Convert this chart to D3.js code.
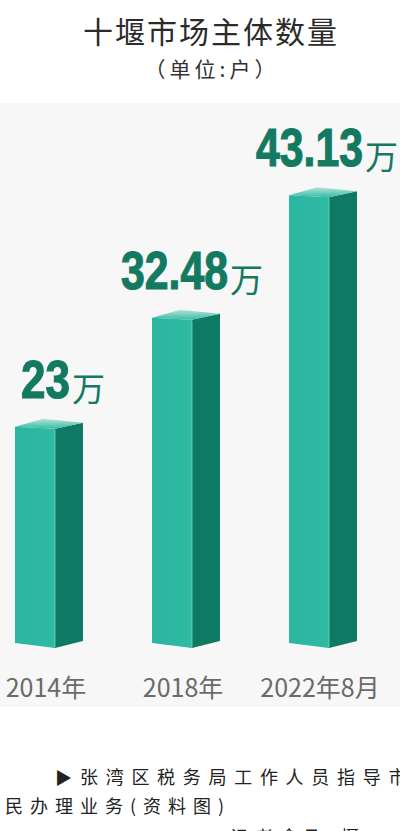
<!DOCTYPE html>
<html><head><meta charset="utf-8">
<script src="https://cdn.jsdelivr.net/npm/d3@7/dist/d3.min.js"></script>
<style>
html,body{margin:0;padding:0;background:#fff;}
svg{display:block;}
</style></head>
<body>
<script>
const title = "十堰市场主体数量";
const subtitle = "（单位:户）";
const categories = ["2014年", "2018年", "2022年8月"];
const values = [23, 32.48, 43.13];
const valueLabels = ["23", "32.48", "43.13"];
const unitLabel = "万";
const captionLines = ["张湾区税务局工作人员指导市", "民办理业务(资料图)", "记者余飞 摄"];

const W = 400, H = 831;
const svg = d3.select("body").append("svg").attr("width", W).attr("height", H);

// panel
svg.append("rect").attr("x", 0).attr("y", 103).attr("width", W).attr("height", 604).attr("fill", "#f7f7f7");

// title
svg.append("text").attr("x", 211).attr("y", 43).attr("text-anchor", "middle")
  .attr("font-family", "'Noto Sans CJK SC', sans-serif").attr("font-size", 30)
  .attr("letter-spacing", 2).attr("fill", "#2b2b2b").text(title);
svg.append("text").attr("x", 212).attr("y", 77).attr("text-anchor", "middle")
  .attr("font-family", "'Noto Sans CJK SC', sans-serif").attr("font-size", 21)
  .attr("letter-spacing", 4).attr("fill", "#333").text(subtitle);

const x = d3.scaleBand().domain(categories).range([15, 357]).paddingInner(0.504).paddingOuter(0);
const y = d3.scaleLinear().domain([4.2, 44]).range([643, 185.3]);
const base = y.range()[0];
const bw = x.bandwidth();
const fw = bw * 40 / 68, sw = bw - fw;

const defs = svg.append("defs");
const g = defs.append("linearGradient").attr("id", "topg").attr("x1", 0).attr("y1", 0).attr("x2", 0).attr("y2", 1);
g.append("stop").attr("offset", "0%").attr("stop-color", "#b5e3d8");
g.append("stop").attr("offset", "100%").attr("stop-color", "#36bba4");
const fg = defs.append("linearGradient").attr("id", "frontg").attr("x1", 0).attr("y1", 0).attr("x2", 1).attr("y2", 0);
fg.append("stop").attr("offset", "0%").attr("stop-color", "#2ab5a0");
fg.append("stop").attr("offset", "100%").attr("stop-color", "#2ebaa3");

const data = categories.map((c, i) => ({c, v: values[i], l: valueLabels[i]}));
const bars = svg.append("g").selectAll("g").data(data).join("g");

bars.each(function(d, i) {
  const sel = d3.select(this);
  const x0 = x(d.c), yt = y(d.v);
  const pts = a => a.map(p => p.join(",")).join(" ");
  sel.append("polygon").attr("fill", "url(#frontg)")
    .attr("points", pts([[x0, yt], [x0 + fw, yt + 2], [x0 + fw, base + 5], [x0, base]]));
  sel.append("polygon").attr("fill", "#0f7a63")
    .attr("points", pts([[x0 + fw, yt + 2], [x0 + bw, yt - 4], [x0 + bw, base - 2], [x0 + fw, base + 5]]));
  sel.append("polygon").attr("fill", "url(#topg)")
    .attr("points", pts([[x0, yt], [x0 + fw, yt + 2], [x0 + bw, yt - 4], [x0 + sw, yt - 8]]));
  sel.append("line").attr("x1", x0 + fw).attr("x2", x0 + fw).attr("y1", yt + 3).attr("y2", base + 4)
    .attr("stroke", "#7fd3c2").attr("stroke-width", 0.8);

  // value label: number + unit in one text element
  const digits = d.l.replace(/\./g, "").length, dots = d.l.length - digits;
  const numW = digits * 24.5 + dots * 9;
  const gap = 2;
  const total = numW + gap + 33;
  const cx = x0 + bw / 2 + (i === 0 ? 14 : (i === 2 ? 4 : 6));
  const sx = cx - total / 2;
  const by = yt - 29;
  const t = sel.append("text").attr("x", sx).attr("y", by).attr("fill", "#137a61");
  t.append("tspan")
    .attr("font-family", "'Liberation Sans Narrow','Liberation Sans',Arial,sans-serif")
    .attr("font-weight", "bold").attr("font-size", 53)
    .attr("textLength", numW).attr("lengthAdjust", "spacingAndGlyphs")
    .attr("stroke", "#137a61").attr("stroke-width", 1.2)
    .text(d.l);
  t.append("tspan").attr("x", sx + numW + gap).attr("dy", 3)
    .attr("font-family", "'Noto Sans CJK SC', sans-serif").attr("font-size", 33)
    .attr("font-weight", 400).text(unitLabel);
});

// x axis labels
const ax = svg.append("g").attr("transform", `translate(-3,${base + 26})`)
  .call(d3.axisBottom(x).tickSize(0).tickPadding(0));
ax.select(".domain").remove();
ax.selectAll("text").attr("font-family", "'Noto Sans CJK SC', sans-serif").attr("font-size", 25)
  .attr("fill", "#6a6a6a").attr("dy", 0).attr("y", 28);

// caption
const cap = svg.append("g").attr("font-family", "'Noto Sans CJK SC', serif").attr("fill", "#222").attr("font-size", 18);
cap.append("text").attr("x", 55).attr("y", 784).attr("font-size", 17).text("▶");
cap.append("text").attr("x", 80).attr("y", 784).attr("letter-spacing", 7.7).text(captionLines[0]);
cap.append("text").attr("x", 5).attr("y", 813).attr("letter-spacing", 7).text(captionLines[1]);
cap.append("text").attr("x", 230).attr("y", 844).attr("letter-spacing", 7).text(captionLines[2]);
</script>
</body></html>
